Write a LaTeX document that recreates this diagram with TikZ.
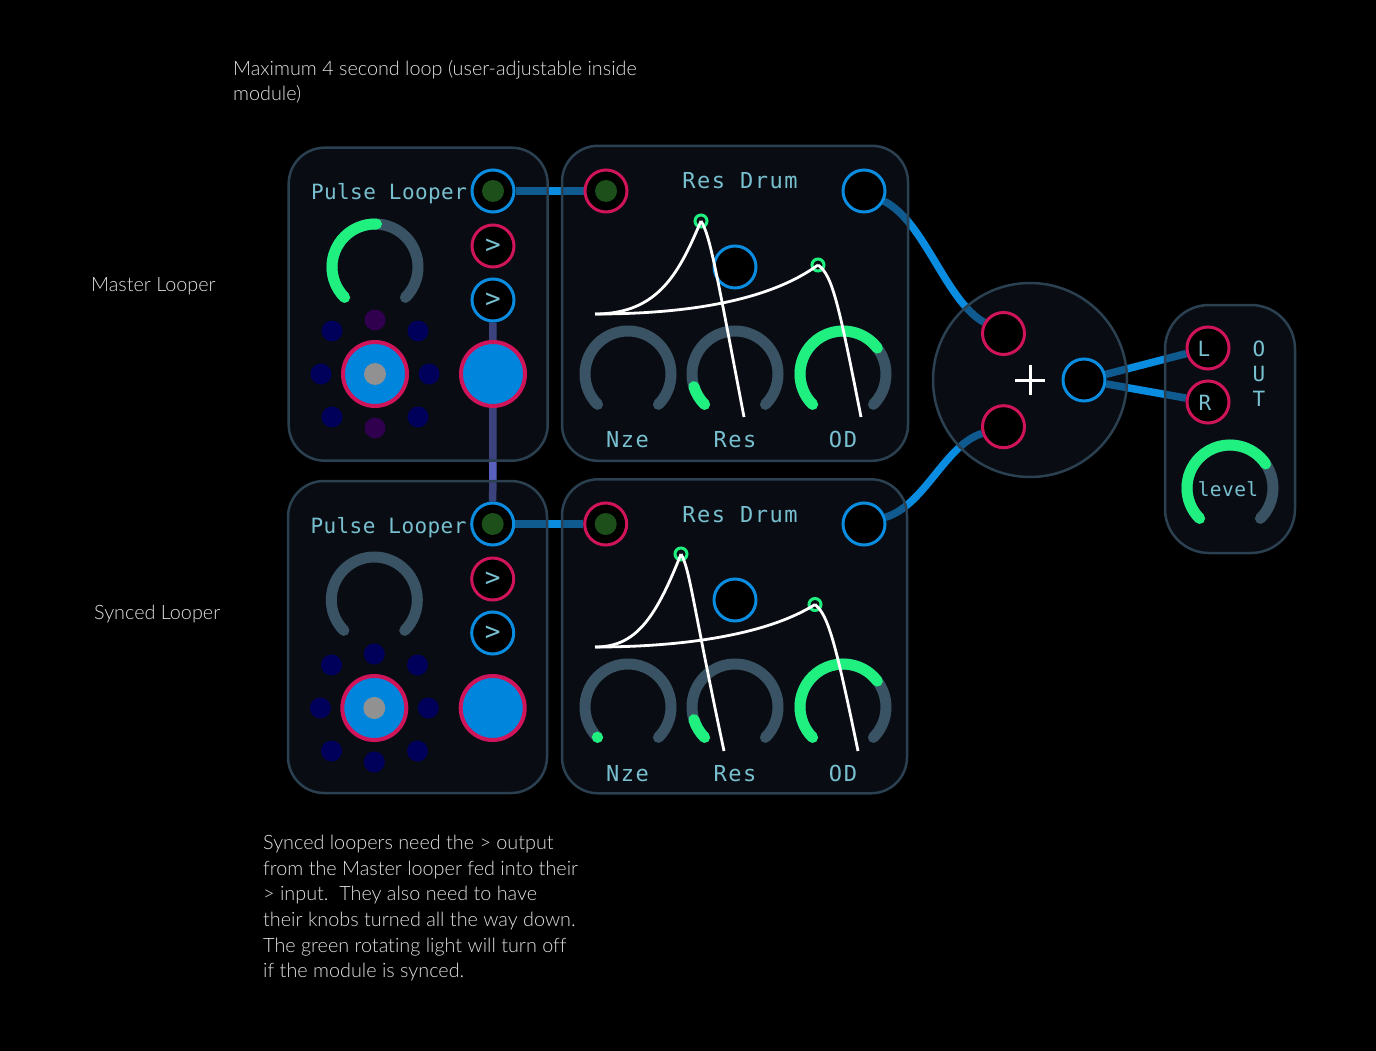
\documentclass[tikz,border=0pt]{standalone}
\usepackage{fontspec}
\usepackage{tikz}
\usetikzlibrary{positioning}
\setmainfont{Lato}[UprightFont=* Light, Ligatures={NoCommon}]
\newfontfamily\panelfont[LetterSpace=2]{DejaVu Sans Mono}
\newfontfamily\widefont[LetterSpace=7]{DejaVu Sans Mono}
\definecolor{panelfill}{HTML}{161F2C}
\definecolor{panelline}{HTML}{2B4050}
\definecolor{trackcol}{HTML}{3A5364}
\definecolor{greencol}{HTML}{20F080}
\definecolor{bluecol}{HTML}{0A8CE0}
\definecolor{btncol}{HTML}{0085DD}
\definecolor{redcol}{HTML}{D0145A}
\definecolor{labelcol}{HTML}{78C0D0}
\definecolor{notecol}{HTML}{E0E0E0}
\definecolor{violetcol}{HTML}{5A60BE}
\definecolor{navycol}{HTML}{00005A}
\definecolor{plumcol}{HTML}{30004F}
\definecolor{dimgreen}{HTML}{1D4F1A}
\pgfdeclarelayer{pagebg}
\pgfdeclarelayer{cables}
\pgfsetlayers{pagebg,cables,main}

\begin{document}
\begin{tikzpicture}[x=1pt,y=-1pt]
		\tikzset{
			panel/.style={rectangle, draw=panelline, line width=2.5pt, fill=panelfill, fill opacity=0.45, draw opacity=1, rounded corners=36pt},
			port/.style={circle, draw, line width=3pt, fill=black, minimum size=42pt, inner sep=0pt, text=labelcol, font=\panelfont\fontsize{26}{26}\selectfont},
			inport/.style={port, draw=redcol},
			outport/.style={port, draw=bluecol},
			litdot/.style={circle, fill=dimgreen, minimum size=22pt, inner sep=0pt},
			bigbtn/.style={circle, draw=redcol, line width=4pt, fill=btncol, minimum size=64pt, inner sep=0pt},
			graydot/.style={circle, fill=black!43, minimum size=22pt, inner sep=0pt},
			navyled/.style={circle, fill=navycol, minimum size=21pt, inner sep=0pt},
			purpleled/.style={circle, fill=plumcol, minimum size=21pt, inner sep=0pt},
			peak/.style={circle, draw=greencol, line width=3pt, minimum size=12pt, inner sep=0pt},
			paneltext/.style={text=labelcol, anchor=base, inner sep=0pt, font=\panelfont\fontsize{21}{21}\selectfont},
			widetext/.style={text=labelcol, anchor=base, inner sep=0pt, font=\widefont\fontsize{22}{22}\selectfont},
			note/.style={text=notecol, anchor=north west, align=left, inner sep=0pt, font=\fontsize{19.8}{25.6}\selectfont},
			cable/.style={line width=7.5pt, bluecol},
			trackarc/.style={line width=11pt, trackcol, line cap=round},
			levelarc/.style={line width=11pt, greencol, line cap=round},
			envline/.style={line width=2.8pt, white}
		}
		\begin{pgfonlayer}{pagebg}
			\fill[black] (0,0) rectangle (1376,1051);
		\end{pgfonlayer}
		\useasboundingbox (0,0) rectangle (1376,1051);

		% panels
		\node[panel, minimum width=259pt, minimum height=313pt](looperA) at (418.2,304.2){};
		\node[panel, minimum width=346pt, minimum height=315pt](drumA) at (735,303.3){};
		\node[panel, minimum width=259pt, minimum height=312pt](looperB) at (417.5,637){};
		\node[panel, minimum width=345pt, minimum height=314pt](drumB) at (734.5,636.3){};
		\node[panel, circle, minimum size=194pt, inner sep=0pt](mixer) at (1030,380){};
		\node[panel, minimum width=130pt, minimum height=248pt, rounded corners=44pt](output) at (1230,429){};

		% first looper
		\node[paneltext](titleA) at (389,200){Pulse Looper};
		\node[outport](gateoutA) at (493,191){};
		\node[litdot](gatedotA) at (493,191){};
		\node[inport, below=10pt of gateoutA](syncinA){>};
		\node[outport, below=9pt of syncinA](syncoutA){>};
		\node[bigbtn](playA) at (493,374){};
		\node[bigbtn](recA) at (375,374){};
		\node[graydot](recdotA) at (375,374){};
		\node[purpleled](ledAn) at (375,320){};
		\node[navyled](ledAne) at (418,331){};
		\node[navyled](ledAe) at (429,374){};
		\node[navyled](ledAse) at (418,417){};
		\node[purpleled](ledAs) at (375,428){};
		\node[navyled](ledAsw) at (332,417){};
		\node[navyled](ledAw) at (321,374){};
		\node[navyled](ledAnw) at (332,331){};

		% second looper
		\node[paneltext](titleB) at (388.5,533.7){Pulse Looper};
		\node[outport](gateoutB) at (492.7,524){};
		\node[litdot](gatedotB) at (492.7,524){};
		\node[inport, below=10pt of gateoutB](syncinB){>};
		\node[outport, below=9pt of syncinB](syncoutB){>};
		\node[bigbtn](playB) at (492.7,708){};
		\node[bigbtn](recB) at (374.3,708){};
		\node[graydot](recdotB) at (374.3,708){};
		\node[navyled](ledBn) at (374.3,654){};
		\node[navyled](ledBne) at (417.5,665){};
		\node[navyled](ledBe) at (428.3,708){};
		\node[navyled](ledBse) at (417.5,751){};
		\node[navyled](ledBs) at (374.3,762){};
		\node[navyled](ledBsw) at (331.5,751){};
		\node[navyled](ledBw) at (320.3,708){};
		\node[navyled](ledBnw) at (331.5,665){};

		% first drum
		\node[widetext](titleC) at (740,189){Res Drum};
		\node[inport](trigA) at (606,191){};
		\node[litdot](trigdotA) at (606,191){};
		\node[outport](audioA) at (864,191){};
		\node[outport](vcaA) at (735,267){};
		\node[widetext](nzeA) at (627.5,447.7){Nze};
		\node[widetext](resA) at (735,447.7){Res};
		\node[widetext](odA) at (843,447.7){OD};

		% second drum
		\node[widetext](titleD) at (740,522.7){Res Drum};
		\node[inport](trigB) at (605.7,524){};
		\node[litdot](trigdotB) at (605.7,524){};
		\node[outport](audioB) at (864,524){};
		\node[outport](vcaB) at (735,600){};
		\node[widetext](nzeB) at (627.5,781){Nze};
		\node[widetext](resB) at (735,781){Res};
		\node[widetext](odB) at (843,781){OD};

		% mixer and output
		\node[inport](mixinA) at (1003.5,333.5){};
		\node[inport](mixinB) at (1003.5,426.7){};
		\node[outport](mixout) at (1084,380){};
		\node[inport](outL) at (1208,348){};
		\node[inport](outR) at (1208,402){};
		\node[paneltext](letterL) at (1204,356.7){L};
		\node[paneltext](letterR) at (1205,410){R};
		\node[paneltext](letterO) at (1259,356.7){O};
		\node[paneltext](letterU) at (1259,381){U};
		\node[paneltext, font=\panelfont\fontsize{19.5}{20}\selectfont](levelname) at (1228,496){level};
		\node[paneltext](letterT) at (1259,406){T};
		\coordinate (plus) at (1030,380);
		\draw[line width=3pt, white] (plus) ++(-15,0) -- ++(30,0);
		\draw[line width=3pt, white] (plus) ++(0,-15) -- ++(0,30);

		% knobs
		\coordinate (knobA) at (375,267);
		\coordinate (knobB) at (374.3,600);
		\coordinate (knobC) at (628,374);
		\coordinate (knobD) at (735,374);
		\coordinate (knobE) at (843,374);
		\coordinate (knobF) at (628,707);
		\coordinate (knobG) at (735,707);
		\coordinate (knobH) at (843,707);
		\coordinate (knobJ) at (1230,488);
		\draw[trackarc] (knobA) ++(135:43) arc[start angle=135, end angle=405, radius=43];
		\draw[trackarc] (knobB) ++(135:43) arc[start angle=135, end angle=405, radius=43];
		\draw[trackarc] (knobC) ++(135:43) arc[start angle=135, end angle=405, radius=43];
		\draw[trackarc] (knobD) ++(135:43) arc[start angle=135, end angle=405, radius=43];
		\draw[trackarc] (knobE) ++(135:43) arc[start angle=135, end angle=405, radius=43];
		\draw[trackarc] (knobF) ++(135:43) arc[start angle=135, end angle=405, radius=43];
		\draw[trackarc] (knobG) ++(135:43) arc[start angle=135, end angle=405, radius=43];
		\draw[trackarc] (knobH) ++(135:43) arc[start angle=135, end angle=405, radius=43];
		\draw[trackarc] (knobJ) ++(135:43) arc[start angle=135, end angle=405, radius=43];
		\draw[levelarc] (knobA) ++(135:43) arc[start angle=135, end angle=272, radius=43];
		\draw[levelarc] (knobD) ++(135:43) arc[start angle=135, end angle=163, radius=43];
		\draw[levelarc] (knobE) ++(135:43) arc[start angle=135, end angle=323, radius=43];
		\draw[levelarc] (knobF) ++(135:43) arc[start angle=135, end angle=135.5, radius=43];
		\draw[levelarc] (knobG) ++(135:43) arc[start angle=135, end angle=163, radius=43];
		\draw[levelarc] (knobH) ++(135:43) arc[start angle=135, end angle=323, radius=43];
		\draw[levelarc] (knobJ) ++(135:43) arc[start angle=135, end angle=326, radius=43];

		% envelopes
		\coordinate (startA) at (595,314);
		\coordinate (startB) at (595,647);
		\coordinate (tailA) at (744,417);
		\coordinate (tailB) at (861,417);
		\coordinate (tailC) at (724,751);
		\coordinate (tailD) at (858,751);
		\node[peak](peakA) at (701,221){};
		\node[peak](peakB) at (818,265){};
		\node[peak](peakC) at (681,554){};
		\node[peak](peakD) at (815,604.5){};
		\draw[envline] (startA) .. controls (660,314) and (680,270) .. (peakA.center);
		\draw[envline] (peakA.center) .. controls (710,235) and (716,270) .. (tailA);
		\draw[envline] (startA) .. controls (690,314) and (770,300) .. (peakB.center);
		\draw[envline] (peakB.center) .. controls (832,275) and (838,300) .. (tailB);
		\draw[envline] (startB) .. controls (635,647) and (655,620) .. (peakC.center);
		\draw[envline] (peakC.center) .. controls (690,570) and (692,600) .. (tailC);
		\draw[envline] (startB) .. controls (690,647) and (770,633) .. (peakD.center);
		\draw[envline] (peakD.center) .. controls (828,615) and (835,640) .. (tailD);

		% cables behind the panels
		\begin{pgfonlayer}{cables}
			\draw[cable, violetcol](syncoutA) -- (gateoutB);
			\draw[cable](gateoutA) -- (trigA);
			\draw[cable](gateoutB) -- (trigB);
			\draw[cable](audioA) .. controls (925,222) and (945,300) .. (mixinA);
			\draw[cable](audioB) .. controls (925,505) and (945,445) .. (mixinB);
			\draw[cable](mixout) -- (outL);
			\draw[cable](mixout) -- (outR);
		\end{pgfonlayer}

		% notes
		\node[note](noteloop) at (233,60){Maximum 4 second loop (user-adjustable inside\\module)};
		\node[note](notemaster) at (91,277){Master Looper};
		\node[note](notesynced) at (94,605){Synced Looper};
		\node[note](notehow) at (263,835){Synced loopers need the > output\\from the Master looper fed into their\\> input.\ \ They also need to have\\their knobs turned all the way down.\\The green rotating light will turn off\\if the module is synced.};
	\end{tikzpicture}
\end{document}
